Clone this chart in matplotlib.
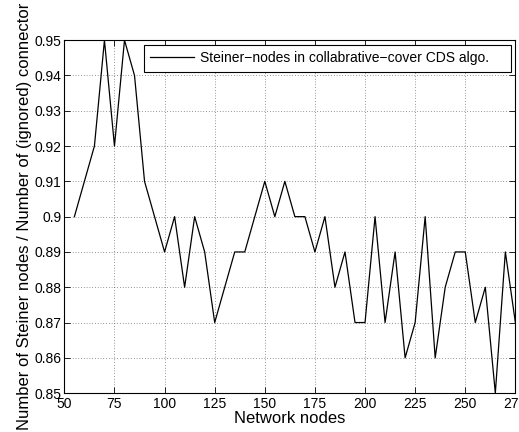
import matplotlib
matplotlib.use("Agg")
import matplotlib.pyplot as plt
from matplotlib.ticker import FuncFormatter

plt.rcParams['font.family'] = ['Liberation Sans', 'DejaVu Sans']

nodes = list(range(55, 280, 5))
ratio = [0.90, 0.91, 0.92, 0.95, 0.92, 0.95, 0.94, 0.91, 0.90, 0.89,
         0.90, 0.88, 0.90, 0.89, 0.87, 0.88, 0.89, 0.89, 0.90, 0.91,
         0.90, 0.91, 0.90, 0.90, 0.89, 0.90, 0.88, 0.89, 0.87, 0.87,
         0.90, 0.87, 0.89, 0.86, 0.87, 0.90, 0.86, 0.88, 0.89, 0.89,
         0.87, 0.88, 0.85, 0.89, 0.87]
x_ticks = list(range(50, 300, 25))
y_ticks = [0.85, 0.86, 0.87, 0.88, 0.89, 0.90, 0.91, 0.92, 0.93, 0.94, 0.95]
series_label = "Steiner\u2212nodes in collabrative\u2212cover CDS algo.    "

fig = plt.figure(figsize=(5.19, 4.32), dpi=100)
ax = fig.add_axes([0.124, 0.09, 0.869, 0.817])

ax.plot(nodes, ratio, color='black', lw=0.9, label=series_label)

ax.set_xlim(50, 275)
ax.set_ylim(0.85, 0.95)
ax.set_xticks(x_ticks)
ax.set_yticks(y_ticks)
ax.yaxis.set_major_formatter(FuncFormatter(lambda v, p: f"{v:g}"))
ax.tick_params(direction='in', top=True, right=True, length=4, width=0.6,
               labelsize=10)
ax.tick_params(axis='x', pad=3)
ax.tick_params(axis='y', pad=2)
ax.grid(True, linestyle=(0, (1, 3)), color='black', lw=0.5, alpha=0.8)
for s in ax.spines.values():
    s.set_linewidth(0.8)

ax.set_xlabel("Network nodes", fontsize=12, labelpad=0)
ax.set_ylabel("Number of Steiner nodes / Number of (ignored) connector", fontsize=12, labelpad=2)

leg = ax.legend(loc='upper right', fontsize=10, fancybox=False, framealpha=1,
                edgecolor='black', handlelength=3.1, handletextpad=0.45,
                borderpad=0.45, borderaxespad=0.35)
leg.get_frame().set_linewidth(0.8)

fig.savefig("out.png", dpi=100)
